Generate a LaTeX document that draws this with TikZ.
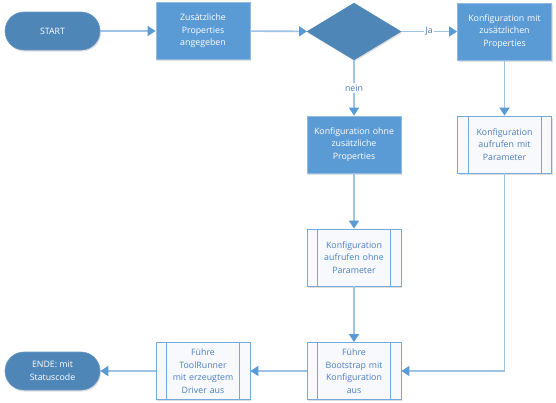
\documentclass[tikz,border=0pt]{standalone}
\usepackage{fontspec}
\setmainfont{Open Sans}
\usetikzlibrary{shapes.geometric,arrows.meta,shadows}
\definecolor{darkb}{HTML}{4E86B8}
\definecolor{procb}{HTML}{5B9BD5}
\definecolor{procbd}{HTML}{93BBE2}
\definecolor{linec}{HTML}{9DC3E6}
\definecolor{arrowc}{HTML}{5B9BD5}
\definecolor{subtext}{HTML}{4A7EC0}
\definecolor{subfill}{HTML}{F7F9FD}
\tikzset{
  base/.style={inner sep=0pt, align=center, font=\fontsize{8.8}{12.6}\selectfont,
    drop shadow={shadow xshift=1pt, shadow yshift=-1.5pt, fill=black!25, opacity=.5}},
  pill/.style={base, rectangle, rounded corners=19pt, fill=darkb, draw=darkb!85!white, line width=0.6pt,
    minimum width=95pt, minimum height=38pt, text=white},
  proc/.style={base, rectangle, fill=procb, draw=procbd, line width=0.8pt,
    minimum width=94pt, minimum height=57pt, text width=90pt, text=white},
  dec/.style={base, diamond, fill=darkb, draw=darkb, minimum width=94pt, minimum height=57pt},
  subp/.style={base, rectangle, fill=subfill, draw=procb!85!white, line width=0.8pt,
    minimum width=94pt, minimum height=57pt, text width=74pt, text=subtext},
  subline/.style={draw=procb!85!white, line width=0.8pt},
  conn/.style={draw=linec, line width=1.6pt, -{Triangle[width=10pt,length=8pt,color=arrowc]}},
  lbl/.style={fill=white, inner sep=1.5pt, text=subtext, font=\fontsize{8.8}{10}\selectfont}
}
\newcommand{\sublines}[1]{%
  \draw[subline] ([xshift=11pt]#1.north west) -- ([xshift=11pt]#1.south west);
  \draw[subline] ([xshift=-11pt]#1.north east) -- ([xshift=-11pt]#1.south east);}
\begin{document}
\begin{tikzpicture}[x=1pt,y=-1pt]
\useasboundingbox (0,0) rectangle (556,402);
\node[pill] (start) at (52.5,31) {START};
\node[proc] (p1) at (203,31) {Zusätzliche\\Properties\\angegeben};
\node[dec] (d) at (354,31.5) {};
\node[proc] (pmit) at (504.5,31.5) {Konfiguration mit\\zusätzlichen\\Properties};
\node[proc] (pohne) at (354,144.5) {Konfiguration ohne\\zusätzliche\\Properties};
\node[subp] (smit) at (504.5,144.5) {Konfiguration\\aufrufen mit\\Parameter};
\sublines{smit}
\node[subp] (sohne) at (354,257.5) {Konfiguration\\aufrufen ohne\\Parameter};
\sublines{sohne}
\node[subp] (boot) at (354,371) {Führe\\Bootstrap mit\\Konfiguration\\aus};
\sublines{boot}
\node[subp] (tool) at (203,371) {Führe\\ToolRunner\\mit erzeugtem\\Driver aus};
\sublines{tool}
\node[pill] (ende) at (52.5,371) {ENDE: mit\\Statuscode};

\draw[conn] (start) -- (p1);
\draw[conn] (p1) -- (d);
\draw[conn] (d) -- node[lbl] {Ja} (pmit);
\draw[conn] (d) -- node[lbl, pos=0.5] {nein} (pohne);
\draw[conn] (pmit) -- (smit);
\draw[conn] (pohne) -- (sohne);
\draw[conn] (sohne) -- (boot);
\draw[conn] (smit.south) |- (boot.east);
\draw[conn] (boot) -- (tool);
\draw[conn] (tool) -- (ende);
\end{tikzpicture}
\end{document}
